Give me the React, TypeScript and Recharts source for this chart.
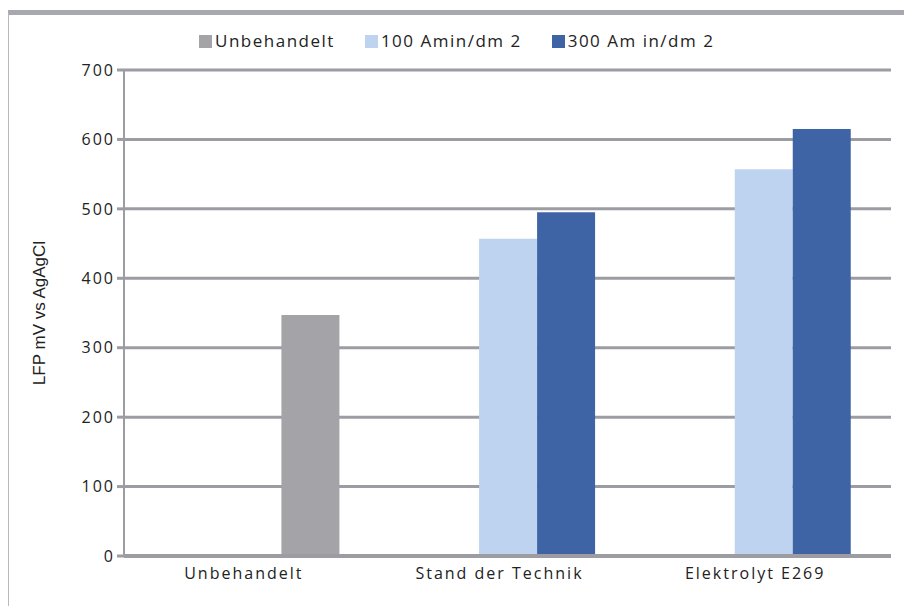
import React from "react";
import { BarChart, Bar, XAxis, YAxis, CartesianGrid, Legend, Cell } from "recharts";

const categories = ["Unbehandelt", "Stand der Technik", "Elektrolyt E269"];
const untreated = [null, null, null];
const amin100 = [null, 457, 557];
const amin300 = [347, 495, 615];
const yTicks = [0, 100, 200, 300, 400, 500, 600, 700];

const GRAY = "#a4a4a8";
const LIGHT = "#bed3ef";
const DARK = "#3f64a6";
const GRID = "#9c9ca3";

const data = categories.map((name, i) => ({
  name,
  untreated: untreated[i],
  a100: amin100[i],
  a300: amin300[i],
}));

const legendItems = [
  { label: "Unbehandelt", color: GRAY },
  { label: "100 Amin/dm 2", color: LIGHT },
  { label: "300 Am in/dm 2", color: DARK },
];

const font = "'Open Sans', 'DejaVu Sans', sans-serif";

function LegendBox() {
  return (
    <div style={{ display: "flex", gap: 30, fontFamily: font, fontSize: 17, color: "#222", letterSpacing: 1.5, lineHeight: "20px" }}>
      {legendItems.map((it) => (
        <div key={it.label} style={{ display: "flex", alignItems: "center" }}>
          <span style={{ width: 13, height: 13, background: it.color, marginRight: 3 }} />
          {it.label}
        </div>
      ))}
    </div>
  );
}

export default function App() {
  return (
    <div
      style={{
        width: 904,
        height: 598,
        borderLeft: "1px solid #b8b8c0",
        borderTop: "5px solid #a8a8b0",
        marginTop: 2,
        boxSizing: "border-box",
        position: "relative",
      }}
    >
      <BarChart
        width={903}
        height={590}
        data={data}
        margin={{ top: 35, right: 21, left: 0, bottom: 9 }}
        barCategoryGap="16.2%"
        barGap={0}
      >
        <CartesianGrid vertical={false} stroke={GRID} strokeWidth={3} />
        <XAxis
          dataKey="name"
          height={40}
          axisLine={{ stroke: GRID, strokeWidth: 4 }}
          tickLine={false}
          tick={{ fontFamily: font, fontSize: 16, fill: "#222", letterSpacing: 2 }}
          dy={4}
          dx={-8}
        />
        <YAxis
          width={115}
          domain={[0, 700]}
          ticks={yTicks}
          axisLine={{ stroke: GRID, strokeWidth: 2 }}
          tickLine={{ stroke: GRID, strokeWidth: 3 }}
          tickSize={7}
          tick={{ fontFamily: font, fontSize: 16, fill: "#222", letterSpacing: 2 }}
          label={{
            value: "LFP mV vs AgAgCl",
            angle: -90,
            position: "insideLeft",
            offset: 30,
            style: { fontFamily: "'Liberation Sans', Arial, sans-serif", fontSize: 17, fill: "#222", textAnchor: "middle" },
          }}
        />
        <Legend verticalAlign="top" align="center" content={<LegendBox />} wrapperStyle={{ top: 16, left: 190 }} />
        <Bar dataKey="untreated" name="Unbehandelt" fill={GRAY} isAnimationActive={false} />
        <Bar dataKey="a100" name="100 Amin/dm 2" fill={LIGHT} isAnimationActive={false} />
        <Bar dataKey="a300" name="300 Am in/dm 2" fill={DARK} isAnimationActive={false}>
          {data.map((d, i) => (
            <Cell key={d.name} fill={i === 0 ? GRAY : DARK} />
          ))}
        </Bar>
      </BarChart>
    </div>
  );
}
